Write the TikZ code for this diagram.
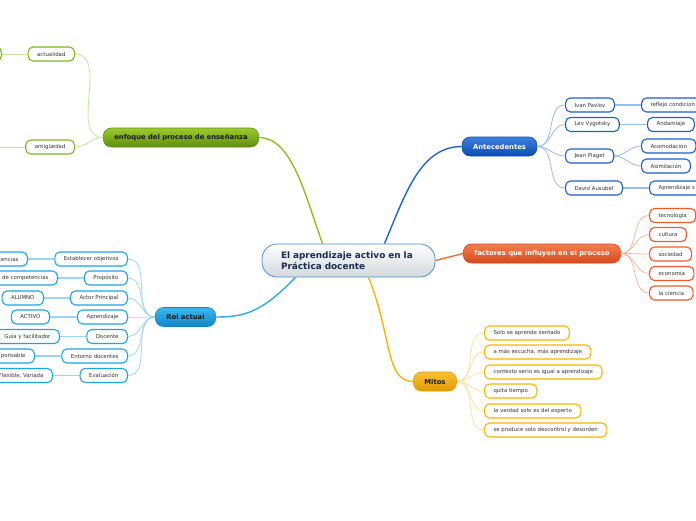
\documentclass[tikz,border=0pt]{standalone}
\usepackage{fontspec}
\setmainfont{DejaVu Sans}
\pgfdeclarelayer{bg}
\pgfsetlayers{bg,main}
\definecolor{gLine}{HTML}{8DBF1E}\definecolor{gTop}{HTML}{9CCB2C}\definecolor{gBot}{HTML}{5E8E0C}\definecolor{gLeaf}{HTML}{7DB71C}\definecolor{gLight}{HTML}{C8E29A}
\definecolor{bLine}{HTML}{2AAAE6}\definecolor{bTop}{HTML}{3DB8EE}\definecolor{bBot}{HTML}{0E86C8}\definecolor{bLeaf}{HTML}{1EA3E8}\definecolor{bLight}{HTML}{9BD6F2}
\definecolor{aLine}{HTML}{1E64D6}\definecolor{aTop}{HTML}{3F7FE0}\definecolor{aBot}{HTML}{0B4DB0}\definecolor{aLeaf}{HTML}{1B5FCF}\definecolor{aLight}{HTML}{9ABBEE}
\definecolor{fLine}{HTML}{F26B3C}\definecolor{fTop}{HTML}{F57D4D}\definecolor{fBot}{HTML}{D64A1C}\definecolor{fLeaf}{HTML}{F05A28}\definecolor{fLight}{HTML}{F9B5A0}
\definecolor{mLine}{HTML}{F7B500}\definecolor{mTop}{HTML}{F9C130}\definecolor{mBot}{HTML}{E39A00}\definecolor{mLeaf}{HTML}{F7B500}\definecolor{mLight}{HTML}{FCE0A0}
\definecolor{cBorder}{HTML}{4A8FCF}\definecolor{cText}{HTML}{1A2A50}\definecolor{cBot}{HTML}{D3D8DC}
\begin{document}
\begin{tikzpicture}[x=1pt,y=-1pt,
  leaf/.style={draw, line width=1.1pt, rounded corners=5pt, fill=white, minimum height=14pt, inner ysep=0pt, inner xsep=9pt, font=\fontsize{5.4}{6.2}\selectfont, text=black!80},
  gleaf/.style={leaf, draw=gLeaf}, bleaf/.style={leaf, draw=bLeaf}, aleaf/.style={leaf, draw=aLeaf}, fleaf/.style={leaf, draw=fLeaf}, mleaf/.style={leaf, draw=mLeaf},
  branch/.style={rounded corners=8pt, minimum height=19pt, inner xsep=11pt, inner ysep=0pt, font=\bfseries\fontsize{6.8}{8}\selectfont, draw, line width=0.6pt},
  thin/.style={line width=0.8pt},
  main/.style={line width=1.4pt}
]
\useasboundingbox (0,0) rectangle (696,520);
\clip (0,0) rectangle (696,520);

% central
\node[draw=cBorder, line width=0.8pt, rounded corners=15pt, top color=white, bottom color=cBot, inner xsep=19pt, text width=135pt, minimum height=33pt, align=left, font=\bfseries\fontsize{8.9}{10.4}\selectfont, text=cText] (c) at (348.5,260.5) {El aprendizaje activo en la\\Práctica docente};

% branches
\node[branch, draw=gBot, top color=gTop, bottom color=gBot, text=black!90] (enf) at (181,137.5) {enfoque del proceso de enseñanza};
\node[branch, draw=bBot, top color=bTop, bottom color=bBot, text=black!90] (rol) at (185.5,317) {Rol actual};
\node[branch, draw=aBot, top color=aTop, bottom color=aBot, text=white] (ant) at (499.5,146.5) {Antecedentes};
\node[branch, draw=fBot, top color=fTop, bottom color=fBot, text=white] (fac) at (542,253.5) {factores que influyen en el proceso};
\node[branch, draw=mBot, top color=mTop, bottom color=mBot, text=black!90] (mit) at (435,381.5) {Mitos};

% enfoque leaves
\node[gleaf, anchor=east] (e1) at (75,54) {actualidad};
\node[gleaf, anchor=east] (e2) at (75,147) {antigüedad};
\node[gleaf, anchor=east, minimum width=40pt] (e1l) at (2,54) {};
\coordinate (e2l) at (-2,147);

% rol leaves
\node[bleaf, anchor=east] (r1) at (128,259) {Establecer objetivos};
\node[bleaf, anchor=east] (r2) at (128,278) {Propósito};
\node[bleaf, anchor=east] (r3) at (128,298) {Actor Principal};
\node[bleaf, anchor=east] (r4) at (128,317) {Aprendizaje};
\node[bleaf, anchor=east] (r5) at (128,336.5) {Docente};
\node[bleaf, anchor=east] (r6) at (128,356) {Entorno docentes};
\node[bleaf, anchor=east] (r7) at (128,375.5) {Evaluación};
\node[bleaf, anchor=east, text width=50pt, align=right] (r1l) at (28,259) {tencias};
\node[bleaf, anchor=east, text width=60pt, align=right] (r2l) at (58,278) {de competencias};
\node[bleaf, anchor=east] (r3l) at (44,298) {ALUMNO};
\node[bleaf, anchor=east] (r4l) at (50,317) {ACTIVO};
\node[bleaf, anchor=east] (r5l) at (60,336.5) {Guía y facilitador};
\node[bleaf, anchor=east, text width=40pt, align=right] (r6l) at (35,356) {ponsable};
\node[bleaf, anchor=east] (r7l) at (53,375.5) {Flexible, Variada};

% antecedentes leaves
\node[aleaf, anchor=west] (a1) at (565,105) {Ivan Pavlov};
\node[aleaf, anchor=west] (a2) at (565,124.5) {Lev Vygotsky};
\node[aleaf, anchor=west] (a3) at (565,156) {Jean Piaget};
\node[aleaf, anchor=west] (a4) at (565,188) {David Ausubel};
\node[aleaf, anchor=west, text width=60pt, align=left] (a1l) at (641,105) {reflejo condicion};
\node[aleaf, anchor=west] (a2l) at (647,124.5) {Andamiaje};
\node[aleaf, anchor=west] (a3l) at (641,146) {Acomodación};
\node[aleaf, anchor=west] (a3m) at (641,166) {Asimilación};
\node[aleaf, anchor=west, text width=60pt, align=left] (a4l) at (649,188) {Aprendizaje s};

% factores leaves
\node[fleaf, anchor=west] (f1) at (649,215.5) {tecnología};
\node[fleaf, anchor=west] (f2) at (649,234.5) {cultura};
\node[fleaf, anchor=west] (f3) at (649,254) {sociedad};
\node[fleaf, anchor=west] (f4) at (649,273.5) {economía};
\node[fleaf, anchor=west] (f5) at (649,293) {la ciencia};

% mitos leaves
\node[mleaf, anchor=west] (m1) at (484,333) {Solo se aprende sentado};
\node[mleaf, anchor=west] (m2) at (484,352) {a más escucha, más aprendizaje};
\node[mleaf, anchor=west] (m3) at (484,372) {contexto serio es igual a aprendizaje};
\node[mleaf, anchor=west] (m4) at (484,391) {quita tiempo};
\node[mleaf, anchor=west] (m5) at (484,411) {la verdad solo es del experto};
\node[mleaf, anchor=west] (m6) at (484,430) {se produce solo descontrol y desorden};

\begin{pgfonlayer}{bg}
% main connectors
\draw[main, gLine] ([xshift=-26pt]c.north) .. controls (305,195) and (292,137.5) .. (enf.east);
\draw[main, aLine] ([xshift=36pt]c.north) .. controls (405,195) and (420,146.5) .. (ant.west);
\draw[main, bLine] ([xshift=-53pt]c.south) .. controls (262,312) and (245,317) .. (rol.east);
\draw[main, mLine] ([xshift=20pt]c.south) .. controls (392,335) and (385,381.5) .. (mit.west);
\draw[main, fLine] (c.east) -- (fac.west);
% enfoque
\foreach \n in {e1,e2} \draw[thin, gLight] (\n.east) to[out=0,in=180] (enf.west);
\draw[thin, gLight] (e1l.east) -- (e1.west);
\draw[thin, gLight] (e2l) -- (e2.west);
% rol
\foreach \n in {r1,r2,r3,r4,r5,r6,r7} \draw[thin, bLight] (\n.east) to[out=0,in=180] (rol.west);
\foreach \n in {1,...,7} \draw[line width=1.4pt, bLight] (r\n l.east) -- (r\n.west);
% antecedentes
\foreach \n in {a1,a2,a3,a4} \draw[thin, aLight] (ant.east) to[out=0,in=180] (\n.west);
\draw[line width=1.2pt, aLight] (a1.east) -- (a1l.west);
\draw[line width=1.2pt, aLight] (a2.east) -- (a2l.west);
\draw[line width=1.2pt, aLight] (a4.east) -- (a4l.west);
\draw[thin, aLight] (a3.east) to[out=0,in=180] (a3l.west);
\draw[thin, aLight] (a3.east) to[out=0,in=180] (a3m.west);
% factores
\foreach \n in {f1,f2,f3,f4,f5} \draw[thin, fLight] (fac.east) to[out=0,in=180] (\n.west);
% mitos
\foreach \n in {m1,m2,m3,m4,m5,m6} \draw[thin, mLight] (mit.east) to[out=0,in=180] (\n.west);
\end{pgfonlayer}
\end{tikzpicture}
\end{document}
